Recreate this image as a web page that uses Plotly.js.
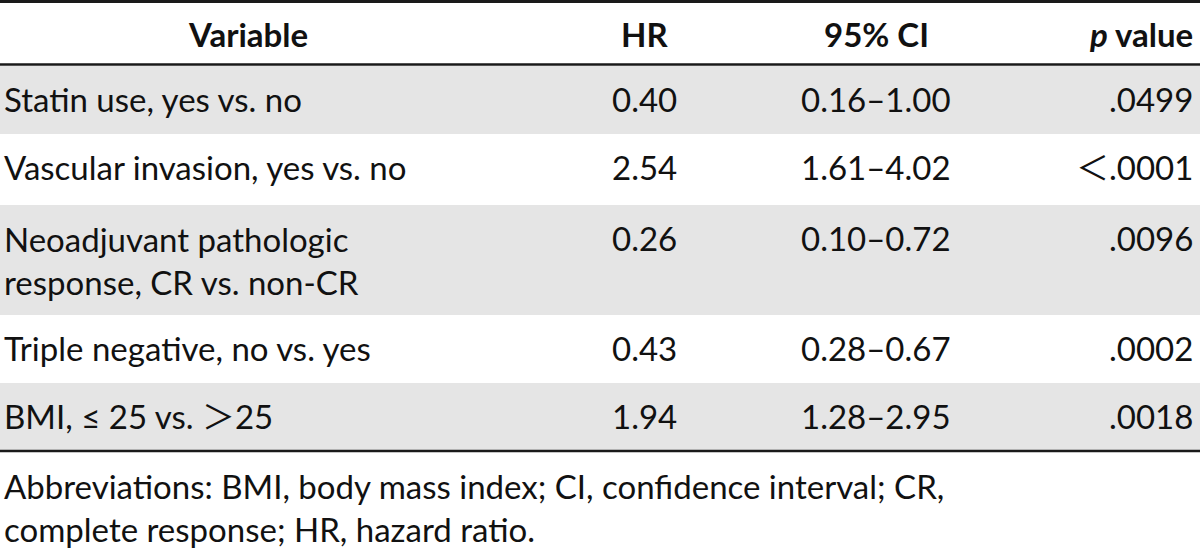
<!DOCTYPE html>
<html>
<head>
<meta charset="utf-8">
<script src="https://cdn.plot.ly/plotly-3.0.1.min.js"></script>
<style>
html,body{margin:0;padding:0;background:#fff;}
#chart{width:1200px;height:554px;}
</style>
</head>
<body>
<div id="chart"></div>
<script>
// ---- data ----
const headers = ["<b>Variable</b>", "<b>HR</b>", "<b>95% CI</b>", "<b><i>p</i> value</b>"];
const variables = [
  "Statin use, yes vs. no",
  "Vascular invasion, yes vs. no",
  "Neoadjuvant pathologic<br>response, CR vs. non-CR",
  "Triple negative, no vs. yes",
  "BMI, ≤ 25 vs. ＞25"
];
const hrValues = ["0.40", "2.54", "0.26", "0.43", "1.94"];
const ciValues = ["0.16–1.00", "1.61–4.02", "0.10–0.72", "0.28–0.67", "1.28–2.95"];
const pValues = [".0499", "＜.0001", ".0096", ".0002", ".0018"];
const footnote = "Abbreviations: BMI, body mass index; CI, confidence interval; CR,<br>complete response; HR, hazard ratio.";

// ---- layout constants ----
const W = 1200, H = 554;
const FONT = "Lato, 'Noto Sans CJK SC', 'Open Sans', sans-serif";
const FS = 33;
const TXT = "#111111";
const GRAY = "#e5e5e5";
const RULE = "#1a1a1a";
const headerTop = 1.5, headerBottom = 64.5;
const rowTops = [66, 134, 205, 315, 383];
const rowBottoms = [134, 205, 315, 383, 450];
const colX = {variable: 2, varHeader: 248, hr: 644, ci: 876, p: 1195};
const firstLineOffset = 33;
const lineH = 44;

const shapes = [];
const annotations = [];

// row backgrounds (alternating)
rowTops.forEach((t, i) => {
  if (i % 2 === 0) {
    shapes.push({type: "rect", xref: "x", yref: "y", x0: 0, x1: W, y0: t, y1: rowBottoms[i],
      fillcolor: GRAY, line: {width: 0}, layer: "below"});
  }
});
// rules
[[headerTop, 3], [headerBottom, 2.5], [rowBottoms[rowBottoms.length - 1] + 1, 2.5]].forEach(([y, w]) => {
  shapes.push({type: "line", xref: "x", yref: "y", x0: 0, x1: W, y0: y, y1: y,
    line: {color: RULE, width: w}});
});

function ann(text, x, y, xanchor, extra) {
  return Object.assign({
    text: text, x: x, y: y, xref: "x", yref: "y", xanchor: xanchor, yanchor: "middle",
    showarrow: false, align: xanchor === "left" ? "left" : (xanchor === "right" ? "right" : "center"),
    font: {family: FONT, size: FS, color: TXT}
  }, extra || {});
}

// header
const hy = (headerTop + headerBottom) / 2 + 1;
annotations.push(ann(headers[0], colX.varHeader, hy, "center"));
annotations.push(ann(headers[1], colX.hr, hy, "center"));
annotations.push(ann(headers[2], colX.ci, hy, "center"));
annotations.push(ann(headers[3], colX.p, hy, "right"));

// body
variables.forEach((v, i) => {
  const first = rowTops[i] + firstLineOffset;
  const nLines = v.split("<br>").length;
  annotations.push(ann(v, colX.variable, first + (nLines - 1) * lineH / 2, "left"));
  annotations.push(ann(hrValues[i], colX.hr, first, "center"));
  annotations.push(ann(ciValues[i], colX.ci, first, "center"));
  annotations.push(ann(pValues[i], colX.p, first, "right"));
});

// footnote
annotations.push(ann(footnote, colX.variable, 507, "left"));

const layout = {
  width: W, height: H,
  margin: {l: 0, r: 0, t: 0, b: 0, pad: 0},
  paper_bgcolor: "#ffffff", plot_bgcolor: "#ffffff",
  xaxis: {range: [0, W], visible: false, fixedrange: true},
  yaxis: {range: [H, 0], visible: false, fixedrange: true},
  showlegend: false,
  shapes: shapes,
  annotations: annotations
};

Plotly.newPlot("chart", [{x: [], y: [], type: "scatter", mode: "markers", hoverinfo: "skip"}], layout,
  {staticPlot: true, displayModeBar: false});
</script>
</body>
</html>
